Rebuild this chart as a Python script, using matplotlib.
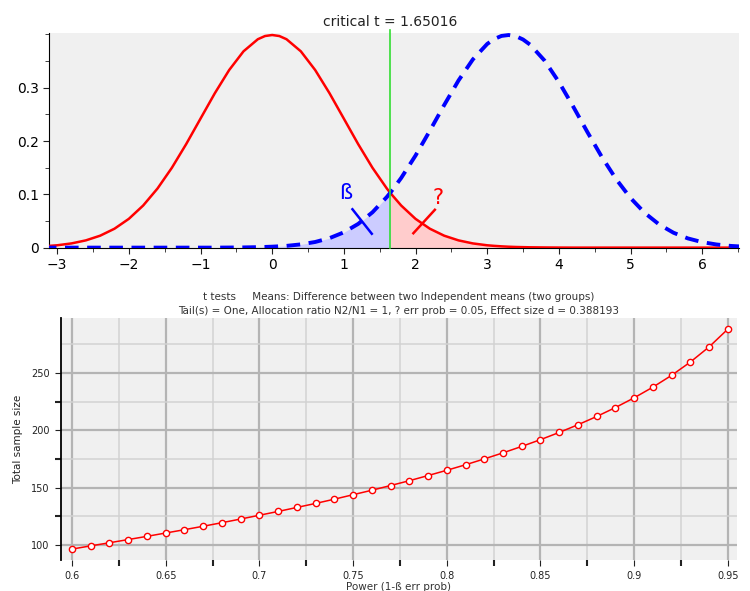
import numpy as np
import matplotlib
matplotlib.use("Agg")
import matplotlib.pyplot as plt
from matplotlib import ticker

t_values = [-3.2, -3.0, -2.8, -2.6, -2.4, -2.2, -2.0, -1.8, -1.6, -1.4,
            -1.2, -1.0, -0.8, -0.6, -0.4, -0.2, -0.1, 0.0, 0.1, 0.2, 0.4, 0.6,
            0.8, 1.0, 1.2, 1.4, 1.6, 1.65016, 1.8, 2.0, 2.2, 2.4,
            2.6, 2.8, 3.0, 3.1, 3.2, 3.3, 3.4, 3.5, 3.6, 3.8, 4.0, 4.2, 4.4,
            4.6, 4.8, 5.0, 5.2, 5.4, 5.6, 5.8, 6.0, 6.2, 6.4, 6.6]
# H0 (central) density, red solid
h0_density = [0.0024, 0.0044, 0.0079, 0.0136, 0.0224, 0.0355, 0.0540, 0.0790, 0.1109, 0.1497,
              0.1942, 0.2420, 0.2897, 0.3332, 0.3683, 0.3910, 0.3970, 0.3989, 0.3970, 0.3910, 0.3683, 0.3332,
              0.2897, 0.2420, 0.1942, 0.1497, 0.1109, 0.1023, 0.0790, 0.0540, 0.0355, 0.0224,
              0.0136, 0.0079, 0.0044, 0.0033, 0.0024, 0.0017, 0.0012, 0.0009, 0.0006, 0.0003, 0.0001, 0.0, 0.0,
              0.0, 0.0, 0.0, 0.0, 0.0, 0.0, 0.0, 0.0, 0.0, 0.0, 0.0]
# H1 (noncentral) density, blue dashed
h1_density = [0.0, 0.0, 0.0, 0.0, 0.0, 0.0, 0.0, 0.0, 0.0, 0.0,
              0.0, 0.0, 0.0, 0.0002, 0.0004, 0.0009, 0.0013, 0.0018, 0.0025, 0.0033, 0.0061, 0.0106,
              0.0178, 0.0287, 0.0445, 0.0664, 0.0950, 0.1033, 0.1307, 0.1727, 0.2193, 0.2675,
              0.3136, 0.3531, 0.3821, 0.3915, 0.3972, 0.3989, 0.3967, 0.3905, 0.3807, 0.3510, 0.3109, 0.2647, 0.2164,
              0.1700, 0.1283, 0.0931, 0.0649, 0.0434, 0.0279, 0.0173, 0.0103, 0.0059, 0.0032, 0.0017]
CRITICAL_T = 1.65016

# power vs total sample size
power = [0.60, 0.61, 0.62, 0.63, 0.64, 0.65, 0.66, 0.67, 0.68, 0.69,
         0.70, 0.71, 0.72, 0.73, 0.74, 0.75, 0.76, 0.77, 0.78, 0.79,
         0.80, 0.81, 0.82, 0.83, 0.84, 0.85, 0.86, 0.87, 0.88, 0.89,
         0.90, 0.91, 0.92, 0.93, 0.94, 0.95]
total_n = [96.5, 99.3, 102.0, 104.8, 107.6, 110.5, 113.4, 116.4, 119.5, 122.7,
           126.0, 129.3, 132.8, 136.3, 140.0, 143.9, 147.8, 151.9, 156.1, 160.6,
           165.2, 170.0, 175.1, 180.4, 186.0, 191.9, 198.2, 204.9, 212.1, 219.9,
           228.4, 237.7, 248.0, 259.6, 272.8, 288.3]

fig = plt.figure(figsize=(7.5, 5.91), dpi=100)
fig.patch.set_facecolor('white')

# ---- top: distributions ----
ax1 = fig.add_axes([0.0657, 0.581, 0.9193, 0.363])
ax1.set_facecolor('#f0f0f0')
t = np.array(t_values)
h0 = np.array(h0_density)
h1 = np.array(h1_density)
ax1.fill_between(t, 0, h1, where=t <= CRITICAL_T, color='#ccccff', lw=0)
ax1.fill_between(t, 0, h0, where=t >= CRITICAL_T, color='#ffcccc', lw=0)
ax1.plot(t, h0, color='#ff0000', lw=1.8, zorder=3)
ax1.plot(t, h1, color='#0000ff', lw=2.8, ls=(0, (3.5, 2.2)), zorder=3)
ax1.axvline(CRITICAL_T, color='#33dd33', lw=1.2, ymax=1.015, clip_on=False, zorder=4)

ax1.plot([1.12, 1.39], [0.072, 0.026], color='#0000ff', lw=1.8, zorder=4)
ax1.plot([2.27, 1.97], [0.071, 0.027], color='#ff0000', lw=1.8, zorder=4)
ax1.text(1.02, 0.102, 'ß', color='#0000ff', fontsize=15, ha='center', va='center')
ax1.text(2.32, 0.093, '?', color='#ff0000', fontsize=15, ha='center', va='center')

ax1.set_xlim(-3.11, 6.51)
ax1.set_ylim(0, 0.4025)
ax1.xaxis.set_major_locator(ticker.MultipleLocator(1))
ax1.xaxis.set_minor_locator(ticker.MultipleLocator(0.5))
ax1.yaxis.set_major_locator(ticker.FixedLocator([0, 0.1, 0.2, 0.3]))
ax1.yaxis.set_minor_locator(ticker.MultipleLocator(0.05))
ax1.yaxis.set_major_formatter(ticker.FormatStrFormatter('%g'))
for s in ['top', 'right']:
    ax1.spines[s].set_visible(False)
ax1.tick_params(which='both', direction='out', labelsize=10, color='#222222')
ax1.tick_params(which='major', length=4)
ax1.tick_params(which='minor', length=3)
ax1.set_title('critical t = 1.65016', fontsize=10, color='#222222', pad=5,
              x=(CRITICAL_T + 3.11) / 9.62)

# ---- bottom: power curve ----
ax2 = fig.add_axes([0.081, 0.0525, 0.902, 0.4095])
ax2.set_facecolor('#f0f0f0')
ax2.set_xlim(0.594, 0.955)
ax2.set_ylim(87, 298)
for v in np.arange(0.6, 0.951, 0.025):
    major = abs(v / 0.05 - round(v / 0.05)) < 1e-6
    ax2.axvline(v, color='#b4b4b4' if major else '#d2d2d2', lw=1.6 if major else 1.1, zorder=0)
for v in range(100, 300, 25):
    ax2.axhline(v, color='#b4b4b4' if v % 50 == 0 else '#d2d2d2', lw=1.6 if v % 50 == 0 else 1.1, zorder=0)
ax2.plot(power, total_n, color='#ff0000', lw=1.1, marker='o', ms=4.5,
         mfc='white', mec='#ff0000', mew=1.0, zorder=3)

ax2.xaxis.set_major_locator(ticker.MultipleLocator(0.05))
ax2.xaxis.set_minor_locator(ticker.MultipleLocator(0.025))
ax2.xaxis.set_major_formatter(ticker.FormatStrFormatter('%g'))
ax2.yaxis.set_major_locator(ticker.FixedLocator([100, 150, 200, 250]))
ax2.yaxis.set_minor_locator(ticker.FixedLocator([125, 175, 225]))
for s in ['top', 'right', 'bottom']:
    ax2.spines[s].set_visible(False)
ax2.spines['left'].set_linewidth(1.3)
ax2.tick_params(which='both', direction='out', labelsize=7, colors='#222222', pad=4)
ax2.tick_params(which='major', length=4)
ax2.tick_params(which='minor', length=4, width=1.5)
ax2.set_xlabel('Power (1-ß err prob)', fontsize=7.5, color='#333333', labelpad=1)
ax2.set_ylabel('Total sample size', fontsize=7.5, color='#222222', labelpad=6)
ax2.set_title('t tests     Means: Difference between two Independent means (two groups)\n'
              'Tail(s) = One, Allocation ratio N2/N1 = 1, ? err prob = 0.05, Effect size d = 0.388193',
              fontsize=7.5, color='#333333', pad=3, linespacing=1.5)

fig.savefig('out.png', dpi=100, facecolor=fig.get_facecolor())
